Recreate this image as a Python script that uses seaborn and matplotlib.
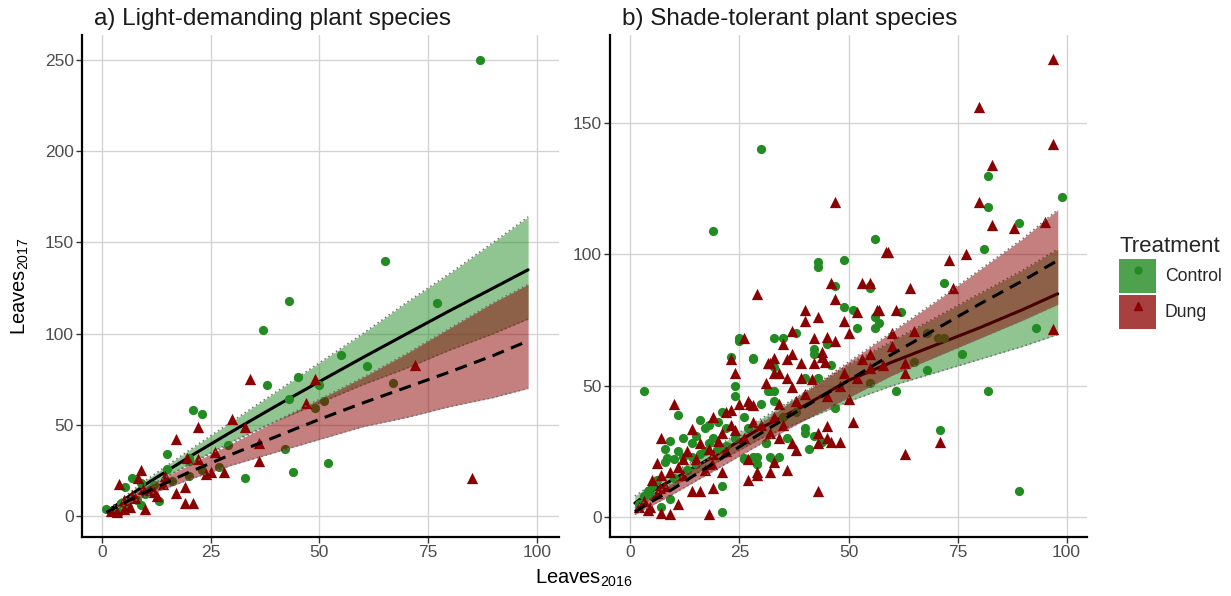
import matplotlib
matplotlib.use("Agg")
import pandas as pd
import matplotlib.pyplot as plt
from matplotlib.patches import Patch
from matplotlib.lines import Line2D
import seaborn as sns

sns.set_theme(style="whitegrid")
plt.rcParams["font.family"] = ["Liberation Sans", "DejaVu Sans"]
plt.rcParams["mathtext.default"] = "regular"

GREEN = "#228B22"
RED = "#8B0000"

# ---- a) light-demanding species: observed leaves ----
light_ctrl_x = [87, 65, 43, 37, 77, 55, 61, 45, 38, 43, 50, 49, 51, 67, 52, 44, 33, 21, 23, 15,
                15, 20, 20, 7, 5.3, 9, 13, 9, 1, 2.5, 4, 29, 27, 20, 16, 23, 42, 4.4, 12, 3,
                6, 10, 11, 8]
light_ctrl_y = [250, 140, 118, 102, 117, 88, 82, 76, 72, 64, 72, 59, 63, 73, 29, 24, 21, 58, 56, 34,
                26, 32, 30, 21, 16, 18, 8, 6, 4, 2, 2, 39, 27, 22, 19, 25, 37, 7, 17, 3,
                5, 12, 15, 9]
light_dung_x = [34, 49, 47, 72, 33, 85, 30, 22, 17, 36, 36, 26, 22, 19.5, 24, 28, 25, 14.5, 9, 8.3,
                19, 17, 19, 21, 4, 9.4, 12, 7, 10, 6.4, 7.6, 5, 3.4, 11, 14, 12.6, 2, 5]
light_dung_y = [75, 75, 62, 83, 49, 21, 53, 49, 42, 40, 30, 35, 31, 32, 23, 24, 24, 22, 25, 21,
                16, 12.6, 7, 7, 17.5, 15, 13, 11.5, 4, 5, 10, 9, 2, 14, 17.5, 11, 3, 4]

# ---- b) shade-tolerant species: observed leaves ----
shade_ctrl_x = [30, 19, 56, 43, 43, 49, 47, 55, 49, 51, 52, 56, 56, 38, 33, 35, 25, 3, 11, 9,
                16, 17, 15, 21, 23, 25, 28, 24, 24, 30, 31.5, 8.4, 8, 11, 12, 14, 19, 21, 9, 7,
                21, 31, 26, 28, 29, 57, 45, 42, 42, 28, 33, 40, 43, 46, 47, 32, 33, 33, 26, 40,
                40, 42, 44, 41, 31, 29, 29, 32, 33, 34, 26, 81, 72, 55, 62, 68, 70.5, 72, 76, 65,
                68, 61, 82, 55, 93, 71, 89, 82, 82, 89, 99, 2, 3, 4, 5, 6, 5, 10, 13, 15,
                17, 18, 20, 22, 24, 10, 12, 8, 14, 16, 18, 20, 22, 27, 35, 38, 36]
shade_ctrl_y = [140, 109, 106, 97, 95, 98, 88, 88, 80, 79, 72, 76, 72, 70, 68, 68, 68, 48, 39, 29,
                37, 34, 31, 40, 61, 67, 60, 50, 46, 43, 48, 22.4, 21, 25, 23, 23, 30, 12, 7, 4,
                2, 28, 22, 23, 20, 74, 66, 64, 62, 60.5, 57, 53, 53, 58, 41.4, 48, 48, 44, 38, 34,
                32, 31, 28.6, 26, 28, 23, 20, 23, 21.7, 23, 22.4, 102, 89, 87, 78, 70, 68, 68, 62, 59,
                56, 48, 48, 51, 72, 33, 10, 130, 118, 112, 122, 5, 8, 10, 12, 14, 8, 15, 18, 20,
                25, 28, 26, 27, 30, 22, 30, 26, 28, 24, 35, 36, 34, 34, 38, 40, 30]
shade_dung_x = [47, 29, 46, 53, 55, 47, 40, 52, 40, 43, 49, 50, 56.5, 37, 42, 45, 47, 26, 10, 14,
                7, 19, 22, 23, 23, 24, 25, 27, 28, 31, 31.5, 6, 7, 12, 18, 21, 18.6, 21, 19, 16,
                14, 11, 6.8, 4.5, 4, 7, 9, 18, 27, 29, 27, 32, 58.6, 57, 35, 44, 44, 37, 33, 32,
                36, 39, 42, 44.6, 33, 34, 36, 39, 41.6, 37, 49, 52, 55, 51, 34, 27.5, 43, 45, 45, 46,
                48, 43, 37, 38, 34, 32, 29, 33, 36, 43, 59, 73, 77, 64, 74, 61, 65, 60, 63, 63,
                97, 71, 63, 97, 80, 97, 83, 80, 83, 88, 95, 2, 3, 5, 6, 8, 9, 11, 12, 13,
                15, 16, 17, 19, 20, 22, 23, 24, 26, 28, 30, 33, 35, 38, 40, 45, 48, 50, 53, 55,
                58, 60]
shade_dung_y = [120, 85, 89, 89, 89, 83, 79, 78, 74.5, 76, 74.5, 70, 79, 71, 68, 68.5, 67, 68, 43, 33.5,
                30, 38, 40, 40.7, 60, 55, 43, 44, 42.6, 51, 58.6, 20.5, 16, 22, 26, 32, 20, 17, 11, 10,
                10, 5, 11, 4, 2.7, 1.5, 1, 1, 14, 16, 22, 17, 101, 79, 66, 63, 61, 62, 60.5, 58.6,
                60, 58.6, 58.6, 59, 55, 55, 53, 53, 52.6, 49.5, 55, 53, 56.6, 36, 43, 43, 32, 34.6, 30, 28.6,
                28.6, 28, 28, 25.5, 30, 32, 17, 21, 18, 10, 101, 98, 100, 87, 87, 79, 71, 65, 58.6, 55,
                71.5, 28.5, 24, 174.5, 156, 142, 134, 120, 111, 110, 112.5, 4, 6, 14, 9, 12, 17, 19, 16, 25,
                22, 28, 18, 24, 29, 25, 35, 33, 30, 36, 35, 38, 35, 44, 47, 46, 50, 45, 60, 62,
                58, 70]

# ---- fitted curves with confidence limits ----
fit_x = [1, 5, 10, 20, 30, 40, 50, 60, 70, 80, 90, 98]
light_ctrl_fit = [2.2, 8.8, 17.3, 32.3, 46.5, 60.3, 73.7, 86.9, 99.8, 112.6, 125, 135]
light_ctrl_lo = [1.8, 7.8, 15, 28.5, 41, 52, 62, 72, 81, 91, 100, 108]
light_ctrl_hi = [2.7, 10.3, 19.5, 36, 52, 68, 84, 100, 117, 133, 150, 164]
light_dung_fit = [2, 7, 13, 24, 34, 43.5, 53, 62, 70.5, 79, 88, 96]
light_dung_lo = [1.5, 5.8, 11, 20, 28, 35, 42, 49, 54, 60, 65, 70]
light_dung_hi = [2.6, 8.5, 15.5, 28, 40, 52, 64, 76, 89, 103, 117, 127]

shade_ctrl_fit = [5.3, 10, 14.5, 24, 34, 42.5, 52, 59, 65.5, 72, 79, 85]
shade_ctrl_lo = [2.5, 7.5, 12, 21, 30, 37, 44, 50, 55, 60, 65, 69.5]
shade_ctrl_hi = [8, 12.5, 17, 27, 37.5, 47.5, 58, 67, 76, 85, 94, 102]
shade_dung_fit = [2, 6, 11, 21.5, 32, 42, 52, 62, 71.5, 81, 90, 97.7]
shade_dung_lo = [1, 4.5, 9, 18.5, 28, 37, 45.5, 54, 61, 68, 75, 81]
shade_dung_hi = [3.5, 8, 13.5, 24.5, 36, 47.5, 59, 70.5, 82, 94, 106, 117]


def draw_band(ax, lo, hi, fit, color, ls, z):
    ax.fill_between(fit_x, lo, hi, color=color, alpha=0.5, lw=0, zorder=z)
    for edge in (lo, hi):
        ax.plot(fit_x, edge, color="#6e6e6e", lw=1.1, ls=(0, (1, 2)), zorder=z + 0.1)
    sns.lineplot(x=fit_x, y=fit, color="black", lw=2.2, linestyle=ls, ax=ax,
                 zorder=z + 0.2, legend=False)


def draw_panel(ax, pts, ctrl, dung, title, xlim, ylim, yticks):
    cx, cy, dx, dy = pts
    draw_band(ax, ctrl[1], ctrl[2], ctrl[0], GREEN, "-", 2)
    sns.scatterplot(x=cx, y=cy, color=GREEN, marker="o", s=44, linewidth=0,
                    ax=ax, zorder=3)
    sns.scatterplot(x=dx, y=dy, color=RED, marker="^", s=66, linewidth=0,
                    ax=ax, zorder=3)
    draw_band(ax, dung[1], dung[2], dung[0], RED, (0, (4, 2.5)), 5)
    ax.set_xlim(*xlim)
    ax.set_ylim(*ylim)
    ax.set_xticks([0, 25, 50, 75, 100])
    ax.set_yticks(yticks)
    ax.set_xlabel("")
    ax.set_ylabel("")
    ax.set_title(title, loc="left", x=0.025, fontsize=17.5, color="#1a1a1a", pad=7)
    ax.grid(True, color="#d4d4d4", lw=1.0)
    for side in ("top", "right"):
        ax.spines[side].set_visible(False)
    for side in ("left", "bottom"):
        ax.spines[side].set_color("black")
        ax.spines[side].set_linewidth(1.6)
    ax.tick_params(axis="both", which="both", length=4, width=1, color="#333333",
                   labelsize=12.5, labelcolor="#4d4d4d", bottom=True, left=True, pad=2)


fig = plt.figure(figsize=(12.31, 5.96), dpi=100)
ax1 = fig.add_axes([82 / 1231, 59 / 596, 477 / 1231, 502 / 596])
ax2 = fig.add_axes([610 / 1231, 59 / 596, 477 / 1231, 502 / 596])

draw_panel(ax1, (light_ctrl_x, light_ctrl_y, light_dung_x, light_dung_y),
           (light_ctrl_fit, light_ctrl_lo, light_ctrl_hi),
           (light_dung_fit, light_dung_lo, light_dung_hi),
           "a) Light-demanding plant species", (-4.6, 105.1), (-11.5, 263.7),
           [0, 50, 100, 150, 200, 250])
draw_panel(ax2, (shade_ctrl_x, shade_ctrl_y, shade_dung_x, shade_dung_y),
           (shade_ctrl_fit, shade_ctrl_lo, shade_ctrl_hi),
           (shade_dung_fit, shade_dung_lo, shade_dung_hi),
           "b) Shade-tolerant plant species", (-4.7, 104.7), (-7.6, 183.5),
           [0, 50, 100, 150])

fig.text(20 / 1231, 1 - 286 / 596, "Leaves$_{2017}$", rotation=90, ha="center",
         va="center", fontsize=14.5, color="black")
fig.text(584 / 1231, 1 - 578 / 596, "Leaves$_{2016}$", ha="center", va="center",
         fontsize=14.5, color="black")

handles = [
    (Patch(facecolor=GREEN, alpha=0.8, edgecolor="none"),
     Line2D([], [], marker="o", color=GREEN, ls="", markersize=5)),
    (Patch(facecolor=RED, alpha=0.75, edgecolor="none"),
     Line2D([], [], marker="^", color=RED, ls="", markersize=6)),
]
leg = fig.legend(handles, ["Control", "Dung"], title="Treatment", loc="upper left",
                 bbox_to_anchor=(1119 / 1231, 1 - 236 / 596), frameon=False,
                 fontsize=12.7, title_fontsize=16, handlelength=2.1, handleheight=2.6,
                 handletextpad=0.5, labelspacing=0.1, borderpad=0, borderaxespad=0,
                 alignment="left")

fig.savefig("out.png", dpi=100)
